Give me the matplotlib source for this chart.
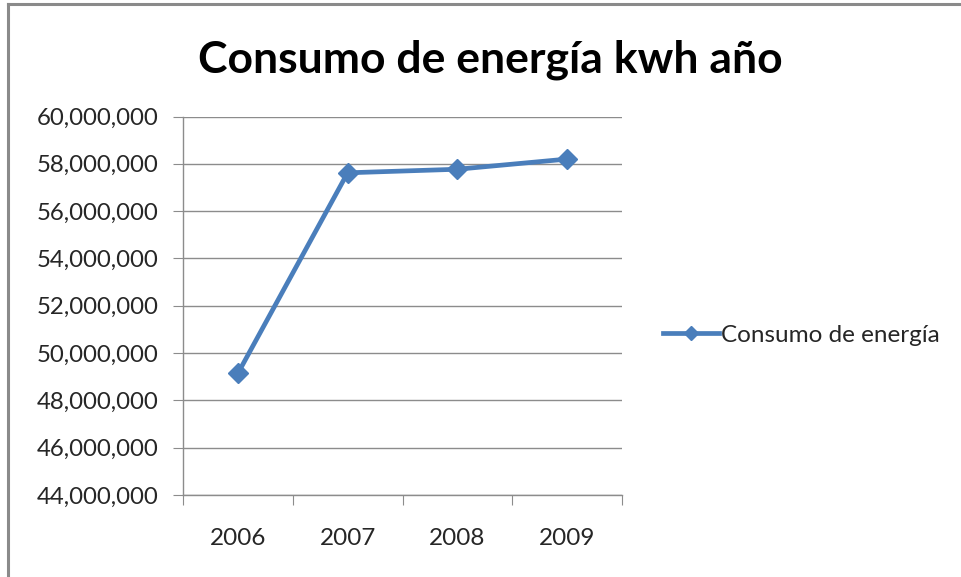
import matplotlib
matplotlib.use("Agg")
import matplotlib.pyplot as plt
from matplotlib.ticker import FuncFormatter

years = ["2006", "2007", "2008", "2009"]
consumo = [49_140_000, 57_620_000, 57_770_000, 58_200_000]
y_ticks = [44_000_000, 46_000_000, 48_000_000, 50_000_000, 52_000_000,
           54_000_000, 56_000_000, 58_000_000, 60_000_000]

plt.rcParams['font.family'] = ['Lato', 'DejaVu Sans']

W, H = 961, 577
fig = plt.figure(figsize=(W / 100, H / 100), dpi=100)
fig.patch.set_facecolor("white")

# chart frame (top and left edges visible)
fig.add_artist(plt.Line2D([8 / W, 1], [1 - 4 / H, 1 - 4 / H], color="#8a8a8a", lw=2.2,
                          transform=fig.transFigure))
fig.add_artist(plt.Line2D([8 / W, 8 / W], [0, 1 - 4 / H], color="#8a8a8a", lw=2.2,
                          transform=fig.transFigure))

left, right = 183, 622
top, bottom = 116.5, 495
ax = fig.add_axes([left / W, 1 - bottom / H, (right - left) / W, (bottom - top) / H])

x = list(range(len(years)))
ax.plot(x, consumo, color="#4a7ebb", lw=3.4, marker="D", markersize=10.5,
        markeredgecolor="#4a7ebb", markerfacecolor="#4a7ebb", label="Consumo de energía",
        zorder=3, solid_joinstyle="round")

ax.set_xlim(-0.5, len(years) - 0.5)
ax.set_ylim(44_000_000, 60_000_000)
ax.set_yticks(y_ticks)
ax.yaxis.set_major_formatter(FuncFormatter(lambda v, p: f"{int(v):,}"))
ax.set_xticks([i - 0.5 for i in range(len(years) + 1)], minor=False)
ax.set_xticklabels([])
ax.set_xticks(x, minor=True)
ax.set_xticklabels(years, minor=True)

ax.grid(axis="y", color="#8c8c8c", lw=1.0)
ax.set_axisbelow(True)
for s in ["top", "right"]:
    ax.spines[s].set_visible(False)
for s in ["left", "bottom"]:
    ax.spines[s].set_color("#8c8c8c")
    ax.spines[s].set_linewidth(1.0)

ax.tick_params(axis="y", which="major", length=7, color="#8c8c8c", labelsize=17.3,
               labelcolor="#262626", pad=10.5)
ax.tick_params(axis="x", which="major", length=7, color="#8c8c8c", direction="out")
ax.tick_params(axis="x", which="minor", length=0, labelsize=17.5, labelcolor="#262626", pad=24)

fig.text(490 / W, 1 - 73 / H, "Consumo de energía kwh año", ha="center", va="baseline",
         fontsize=32, fontweight="bold", color="black")

leg = fig.legend(loc="center left", bbox_to_anchor=(641 / W, 1 - 335 / H), frameon=False,
                 fontsize=17.5, handlelength=2.3, handletextpad=0.1, markerscale=0.7,
                 labelcolor="#262626")

fig.savefig("out.png", dpi=100, facecolor="white")
